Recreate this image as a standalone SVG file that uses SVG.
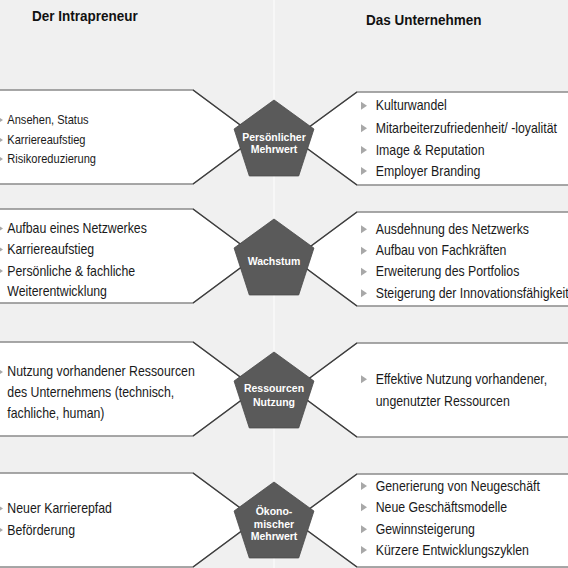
<svg xmlns="http://www.w3.org/2000/svg" width="568" height="568" viewBox="0 0 568 568">
<style>
.bg{fill:#f0f0f0}
.box{fill:#ffffff;stroke:#8a8a8a;stroke-width:1.4}
.diag{stroke:#3c3c3c;stroke-width:1.2;fill:none}
.pent{fill:#5a5a5a;stroke:#4a4a4a;stroke-width:0.8}
.hdr{font-family:"Liberation Sans",Arial,sans-serif;font-weight:bold;font-size:15px;fill:#111}
.txt{font-family:"Liberation Sans",Arial,sans-serif;font-size:14px;fill:#1a1a1a}
.txts{font-family:"Liberation Sans",Arial,sans-serif;font-size:12.6px;fill:#1a1a1a}
.plab{font-family:"Liberation Sans",Arial,sans-serif;font-weight:bold;font-size:10.5px;fill:#ffffff;text-anchor:middle}
.bul{fill:#a8a8a8}
</style>
<defs>
<polygon id="bl" points="-3,-4 3,0 -3,4" class="bul"/>
<polygon id="br" points="0,-4 6,0 0,4" class="bul"/>
</defs>
<rect class="bg" x="0" y="0" width="568" height="568"/>
<line x1="274" y1="0" x2="274" y2="568" stroke="#ffffff" stroke-width="1.5" opacity="0.7"/>

<g id="headers">
<text class="hdr" transform="translate(32 21) scale(0.9 1)">Der Intrapreneur</text>
<text class="hdr" transform="translate(366 25) scale(0.9 1)">Das Unternehmen</text>
</g>

<!-- Left boxes -->
<g id="left1">
<polygon class="box" points="-5,90 193,90 256.5,137 193,184 -5,184"/>
<use href="#bl" x="0" y="120"/><use href="#bl" x="0" y="140"/><use href="#bl" x="0" y="159"/>
<g transform="translate(7.3 0) scale(0.88 1)">
<text class="txts" x="0" y="124.5">Ansehen, Status</text>
<text class="txts" x="0" y="144.5">Karriereaufstieg</text>
<text class="txts" x="0" y="163.5">Risikoreduzierung</text>
</g>
</g>
<g id="left2">
<polygon class="box" points="-5,209 193,209 256.5,256 193,303 -5,303"/>
<use href="#bl" x="0" y="228.5"/><use href="#bl" x="0" y="249.5"/><use href="#bl" x="0" y="271"/>
<g transform="translate(7.3 0) scale(0.88 1)">
<text class="txt" x="0" y="233">Aufbau eines Netzwerkes</text>
<text class="txt" x="0" y="254">Karriereaufstieg</text>
<text class="txt" x="0" y="276">Persönliche &amp; fachliche</text>
<text class="txt" x="0" y="296.5">Weiterentwicklung</text>
</g>
</g>
<g id="left3">
<polygon class="box" points="-5,342 193,342 256.5,389 193,436 -5,436"/>
<use href="#bl" x="0" y="372"/>
<g transform="translate(7.3 0) scale(0.88 1)">
<text class="txt" x="0" y="376.5">Nutzung vorhandener Ressourcen</text>
<text class="txt" x="0" y="397.5">des Unternehmens (technisch,</text>
<text class="txt" x="0" y="418">fachliche, human)</text>
</g>
</g>
<g id="left4">
<polygon class="box" points="-5,473 193,473 256.5,520 193,567 -5,567"/>
<use href="#bl" x="0" y="508.5"/><use href="#bl" x="0" y="530"/>
<g transform="translate(7.3 0) scale(0.88 1)">
<text class="txt" x="0" y="513">Neuer Karrierepfad</text>
<text class="txt" x="0" y="535">Beförderung</text>
</g>
</g>

<!-- Right boxes -->
<g id="right1">
<polygon class="box" points="575,92 357,92 293.5,138.5 357,185 575,185"/>
<use href="#br" x="361" y="105.7"/><use href="#br" x="361" y="128.3"/><use href="#br" x="361" y="150"/><use href="#br" x="361" y="171"/>
<g transform="translate(375.7 0) scale(0.88 1)">
<text class="txt" x="0" y="110.5">Kulturwandel</text>
<text class="txt" x="0" y="133">Mitarbeiterzufriedenheit/ -loyalität</text>
<text class="txt" x="0" y="155">Image &amp; Reputation</text>
<text class="txt" x="0" y="176">Employer Branding</text>
</g>
</g>
<g id="right2">
<polygon class="box" points="575,212 357,212 293.5,259 357,306 575,306"/>
<use href="#br" x="361" y="229.3"/><use href="#br" x="361" y="250.7"/><use href="#br" x="361" y="271.7"/><use href="#br" x="361" y="293.3"/>
<g transform="translate(375.7 0) scale(0.88 1)">
<text class="txt" x="0" y="234">Ausdehnung des Netzwerks</text>
<text class="txt" x="0" y="255.5">Aufbau von Fachkräften</text>
<text class="txt" x="0" y="276.5">Erweiterung des Portfolios</text>
<text class="txt" x="0" y="298">Steigerung der Innovationsfähigkeit</text>
</g>
</g>
<g id="right3">
<polygon class="box" points="575,343 357,343 293.5,390 357,437 575,437"/>
<use href="#br" x="361" y="379.3"/>
<g transform="translate(375.7 0) scale(0.88 1)">
<text class="txt" x="0" y="384">Effektive Nutzung vorhandener,</text>
<text class="txt" x="0" y="406">ungenutzter Ressourcen</text>
</g>
</g>
<g id="right4">
<polygon class="box" points="575,474 357,474 293.5,520.5 357,567 575,567"/>
<use href="#br" x="361" y="486"/><use href="#br" x="361" y="507.3"/><use href="#br" x="361" y="529.3"/><use href="#br" x="361" y="550"/>
<g transform="translate(375.7 0) scale(0.88 1)">
<text class="txt" x="0" y="491">Generierung von Neugeschäft</text>
<text class="txt" x="0" y="512">Neue Geschäftsmodelle</text>
<text class="txt" x="0" y="534">Gewinnsteigerung</text>
<text class="txt" x="0" y="555">Kürzere Entwicklungszyklen</text>
</g>
</g>

<g id="connectors">
<polyline class="diag" points="193,90 256.5,137 193,184"/>
<polyline class="diag" points="193,209 256.5,256 193,303"/>
<polyline class="diag" points="193,342 256.5,389 193,436"/>
<polyline class="diag" points="193,473 256.5,520 193,567"/>
<polyline class="diag" points="357,92 293.5,138.5 357,185"/>
<polyline class="diag" points="357,212 293.5,259 357,306"/>
<polyline class="diag" points="357,343 293.5,390 357,437"/>
<polyline class="diag" points="357,474 293.5,520.5 357,567"/>
</g>

<g id="p1">
<polygon class="pent" points="274,100 313.94,129.02 298.69,175.98 249.31,175.98 234.06,129.02"/>
<text class="plab" x="274" y="140.5">Persönlicher</text>
<text class="plab" x="274" y="153">Mehrwert</text>
</g>
<g id="p2">
<polygon class="pent" points="274,219 313.94,248.02 298.69,294.98 249.31,294.98 234.06,248.02"/>
<text class="plab" x="274" y="265">Wachstum</text>
</g>
<g id="p3">
<polygon class="pent" points="274,352 313.94,381.02 298.69,427.98 249.31,427.98 234.06,381.02"/>
<text class="plab" x="274" y="392">Ressourcen</text>
<text class="plab" x="274" y="405.5">Nutzung</text>
</g>
<g id="p4">
<polygon class="pent" points="274,482 313.94,511.02 298.69,557.98 249.31,557.98 234.06,511.02"/>
<text class="plab" x="274" y="515">Ökono-</text>
<text class="plab" x="274" y="527.5">mischer</text>
<text class="plab" x="274" y="540">Mehrwert</text>
</g>
</svg>
